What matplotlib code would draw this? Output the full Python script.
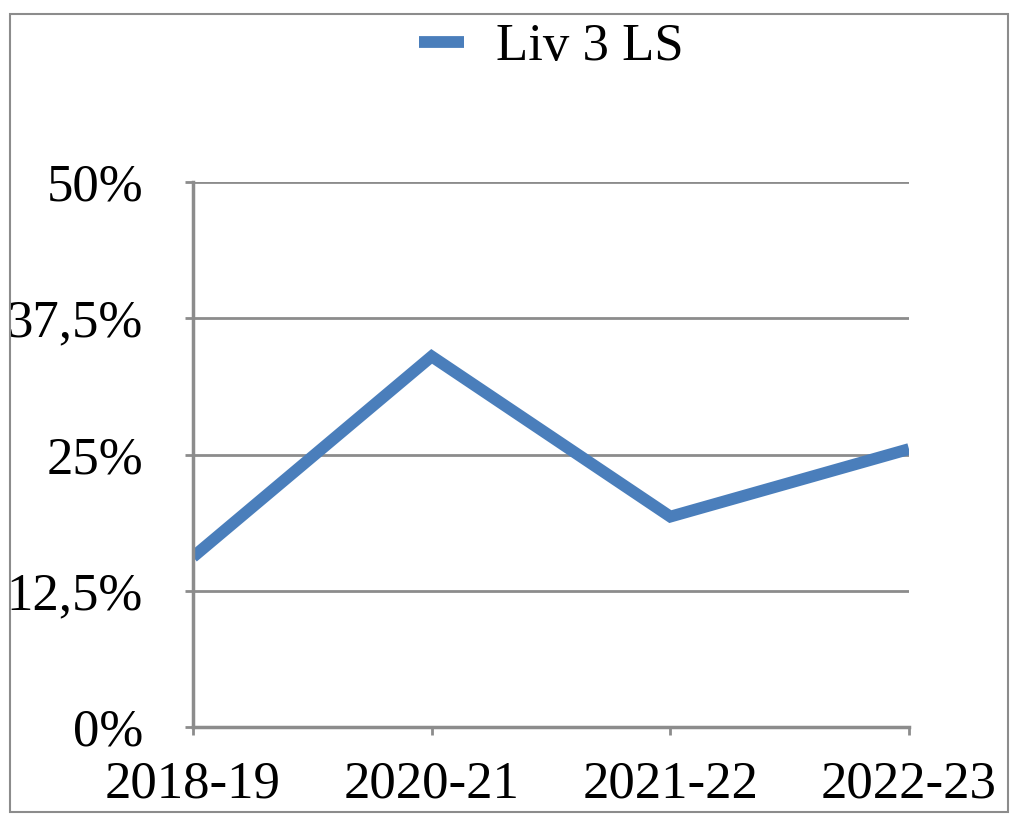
import matplotlib
matplotlib.use("Agg")
import matplotlib.pyplot as plt
from matplotlib.patches import Rectangle

years = ["2018-19", "2020-21", "2021-22", "2022-23"]
liv3_ls = [15.6, 34.0, 19.3, 25.5]
yticks = [0, 12.5, 25, 37.5, 50]
ytick_labels = ["0%", "12,5%", "25%", "37,5%", "50%"]

plt.rcParams['font.family'] = ['Liberation Serif', 'DejaVu Serif']
grey = "#8c8c8c"
blue = "#4a7ebb"

fig = plt.figure(figsize=(10.27, 8.14), dpi=100)
ax = fig.add_axes([193/1027, 1 - 727/814, (909-193)/1027, (727-182)/814])

x = list(range(len(years)))
line, = ax.plot(x, liv3_ls, color=blue, linewidth=8.5, solid_capstyle='butt',
                solid_joinstyle='miter', label="Liv 3 LS")

ax.set_xlim(0, len(years) - 1)
ax.set_ylim(0, 50)
ax.set_xticks(x)
ax.set_xticklabels(years, fontsize=38)
ax.set_yticks(yticks)
ax.set_yticklabels(ytick_labels, fontsize=38)
ax.yaxis.grid(True, color=grey, linewidth=2)
ax.set_axisbelow(True)
for s in ["top", "right"]:
    ax.spines[s].set_visible(False)
for s in ["left", "bottom"]:
    ax.spines[s].set_color(grey)
    ax.spines[s].set_linewidth(2.5)
ax.tick_params(axis='both', color=grey, width=2, length=6)
ax.tick_params(axis='x', pad=18)
ax.tick_params(axis='y', pad=30)

leg = fig.legend(handles=[line], loc='center', bbox_to_anchor=(0.537, 1 - 47/814),
                 frameon=False, fontsize=38, handlelength=0.85, handletextpad=0.6)
leg.get_lines()[0].set_linewidth(8.5)

fig.patches.append(Rectangle((10/1027, 1 - 812/814), (1008-10)/1027, (812-14)/814,
                             transform=fig.transFigure, fill=False,
                             edgecolor=grey, linewidth=1.5))

fig.savefig("out.png", dpi=100)
